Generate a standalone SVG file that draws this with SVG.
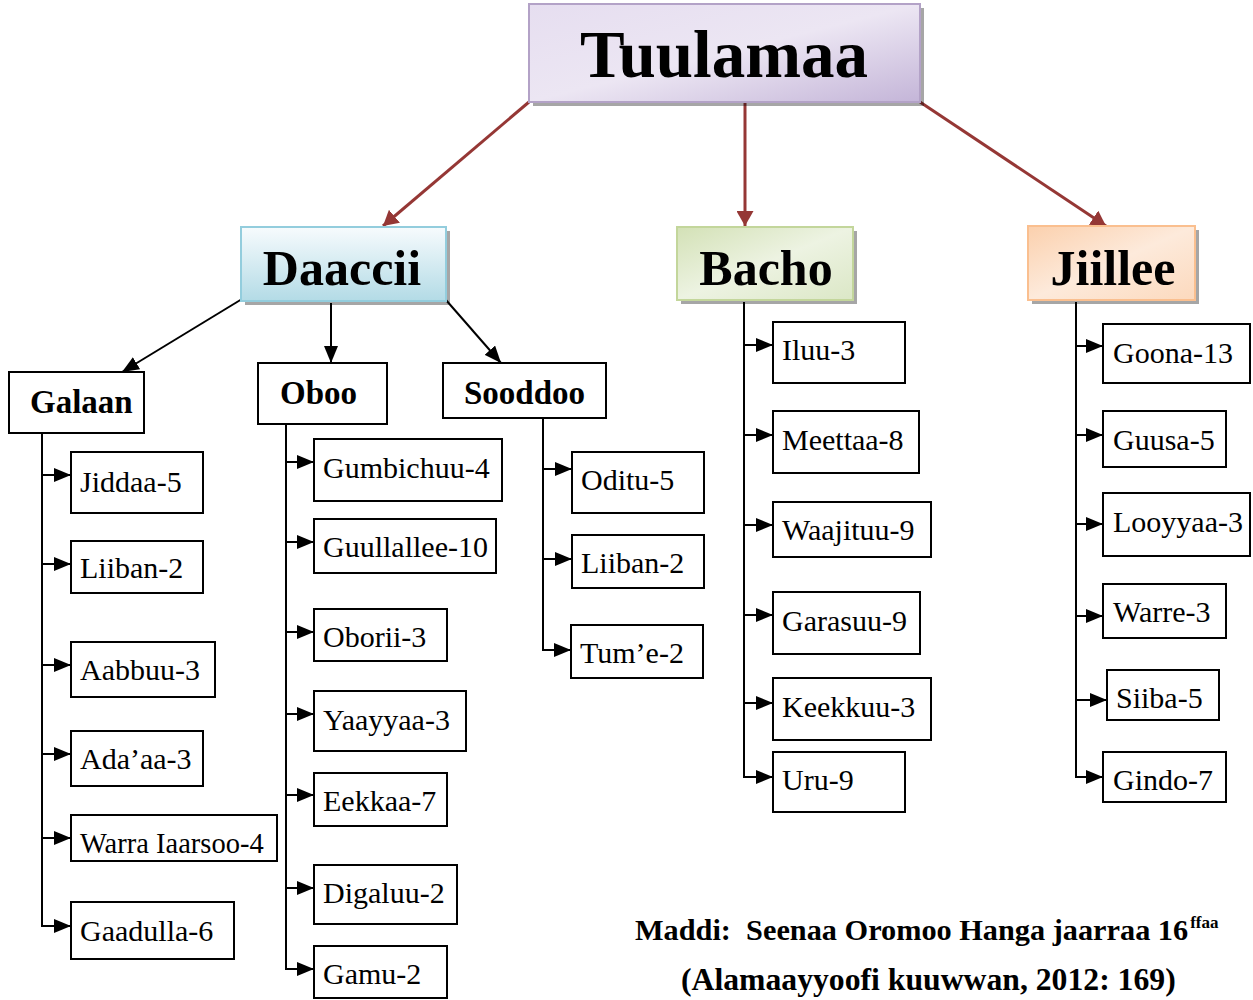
<svg xmlns="http://www.w3.org/2000/svg" width="1253" height="1000" viewBox="0 0 1253 1000">
<defs>
<style>
.box{fill:#fff;stroke:#000;stroke-width:2}
.lbl{font-family:"Liberation Serif","Times New Roman",serif;font-size:30px;fill:#000}
.sub{font-family:"Liberation Serif","Times New Roman",serif;font-size:33px;font-weight:bold;fill:#000}
.hd{font-family:"Liberation Serif","Times New Roman",serif;font-size:50px;font-weight:bold;fill:#000;text-anchor:middle}
.big{font-size:67px}
.ln{stroke:#000;stroke-width:2;fill:none}
.arr{stroke:#000;stroke-width:2;fill:none;marker-end:url(#ab)}
.red{stroke:#953735;stroke-width:3;fill:none;marker-end:url(#ar)}
.shadow{fill:#000;opacity:0.35}
.note{font-family:"Liberation Serif","Times New Roman",serif;font-weight:bold;fill:#000}
</style>
<marker id="ab" markerUnits="userSpaceOnUse" markerWidth="17" markerHeight="14" refX="17" refY="7" orient="auto"><path d="M0,0 L17,7 L0,14 z" fill="#000"/></marker>
<marker id="ar" markerUnits="userSpaceOnUse" markerWidth="15" markerHeight="17" refX="15" refY="8.5" orient="auto"><path d="M0,0 L15,8.5 L0,17 z" fill="#953735"/></marker>
<linearGradient id="gP" x1="0" y1="0" x2="1" y2="1"><stop offset="0" stop-color="#e6def0"/><stop offset="0.5" stop-color="#ece6f3"/><stop offset="1" stop-color="#c4b5d8"/></linearGradient>
<linearGradient id="gB" x1="0" y1="0" x2="0" y2="1"><stop offset="0" stop-color="#f7fbfd"/><stop offset="1" stop-color="#b3dbe6"/></linearGradient>
<linearGradient id="gG" x1="0" y1="0" x2="1" y2="1"><stop offset="0" stop-color="#d3e1b6"/><stop offset="0.5" stop-color="#edf3e2"/><stop offset="1" stop-color="#dbe7c6"/></linearGradient>
<linearGradient id="gO" x1="0" y1="0" x2="1" y2="1"><stop offset="0" stop-color="#fbd0ad"/><stop offset="0.5" stop-color="#fdeadb"/><stop offset="1" stop-color="#fcd9bd"/></linearGradient>
</defs>

<g id="connectors">
<line class="red" x1="529" y1="102" x2="383" y2="226"/>
<line class="red" x1="745" y1="102" x2="745" y2="226"/>
<line class="red" x1="920" y1="102" x2="1106" y2="226"/>
<line class="arr" x1="242" y1="299" x2="122" y2="372"/>
<line class="arr" x1="331" y1="303" x2="331" y2="363"/>
<line class="arr" x1="446" y1="300" x2="501" y2="363"/>
<line class="ln" x1="42" y1="433" x2="42" y2="927"/>
<line class="arr" x1="42" y1="475" x2="71" y2="475"/>
<line class="arr" x1="42" y1="564" x2="71" y2="564"/>
<line class="arr" x1="42" y1="665" x2="71" y2="665"/>
<line class="arr" x1="42" y1="754" x2="71" y2="754"/>
<line class="arr" x1="42" y1="838" x2="71" y2="838"/>
<line class="arr" x1="41" y1="926" x2="71" y2="926"/>
<line class="ln" x1="286" y1="424" x2="286" y2="970"/>
<line class="arr" x1="286" y1="462" x2="314" y2="462"/>
<line class="arr" x1="286" y1="542" x2="314" y2="542"/>
<line class="arr" x1="286" y1="632" x2="314" y2="632"/>
<line class="arr" x1="286" y1="714" x2="314" y2="714"/>
<line class="arr" x1="286" y1="795" x2="314" y2="795"/>
<line class="arr" x1="286" y1="888" x2="314" y2="888"/>
<line class="arr" x1="285" y1="969" x2="314" y2="969"/>
<line class="ln" x1="543" y1="418" x2="543" y2="651"/>
<line class="arr" x1="543" y1="469" x2="572" y2="469"/>
<line class="arr" x1="543" y1="559" x2="572" y2="559"/>
<line class="arr" x1="542" y1="650" x2="571" y2="650"/>
<line class="ln" x1="744" y1="302" x2="744" y2="778"/>
<line class="arr" x1="744" y1="345" x2="773" y2="345"/>
<line class="arr" x1="744" y1="435" x2="773" y2="435"/>
<line class="arr" x1="744" y1="525" x2="773" y2="525"/>
<line class="arr" x1="744" y1="615" x2="773" y2="615"/>
<line class="arr" x1="744" y1="703" x2="773" y2="703"/>
<line class="arr" x1="743" y1="777" x2="773" y2="777"/>
<line class="ln" x1="1076" y1="302" x2="1076" y2="778"/>
<line class="arr" x1="1076" y1="346" x2="1103" y2="346"/>
<line class="arr" x1="1076" y1="435" x2="1103" y2="435"/>
<line class="arr" x1="1076" y1="524" x2="1103" y2="524"/>
<line class="arr" x1="1076" y1="616" x2="1103" y2="616"/>
<line class="arr" x1="1076" y1="700" x2="1107" y2="700"/>
<line class="arr" x1="1075" y1="777" x2="1103" y2="777"/>
</g>

<g id="tuulamaa">
<rect class="shadow" x="533" y="8" width="391" height="98"/>
<rect x="529" y="4" width="391" height="98" fill="url(#gP)" stroke="#b3a2c7" stroke-width="2"/>
<text class="hd big" x="724" y="77">Tuulamaa</text>
</g>
<g id="daaccii">
<rect class="shadow" x="245" y="231" width="205" height="74"/>
<rect x="241" y="227" width="205" height="74" fill="url(#gB)" stroke="#93cddd" stroke-width="2"/>
<text class="hd" x="342" y="285">Daaccii</text>
</g>
<g id="bacho">
<rect class="shadow" x="681" y="231" width="176" height="73" opacity="0.25"/>
<rect x="677" y="227" width="176" height="73" fill="url(#gG)" stroke="#c3d69b" stroke-width="2"/>
<text class="hd" x="766" y="285">Bacho</text>
</g>
<g id="jiillee">
<rect class="shadow" x="1032" y="230" width="167" height="74" opacity="0.25"/>
<rect x="1028" y="226" width="167" height="74" fill="url(#gO)" stroke="#fabf8f" stroke-width="2"/>
<text class="hd" x="1113" y="285">Jiillee</text>
</g>

<g id="galaan"><rect class="box" x="9" y="372" width="135" height="61"/><text class="sub" x="30" y="413">Galaan</text></g>
<g id="oboo"><rect class="box" x="258" y="363" width="129" height="61"/><text class="sub" x="280" y="404">Oboo</text></g>
<g id="sooddoo"><rect class="box" x="443" y="363" width="163" height="55"/><text class="sub" x="464" y="404">Sooddoo</text></g>

<g id="jiddaa"><rect class="box" x="71" y="452" width="132" height="61"/><text class="lbl" x="80" y="492">Jiddaa-5</text></g>
<g id="liiban-g"><rect class="box" x="71" y="541" width="132" height="52"/><text class="lbl" x="80" y="578">Liiban-2</text></g>
<g id="aabbuu"><rect class="box" x="71" y="642" width="144" height="55"/><text class="lbl" x="80" y="680">Aabbuu-3</text></g>
<g id="adaaa"><rect class="box" x="71" y="731" width="132" height="55"/><text class="lbl" x="80" y="769">Ada’aa-3</text></g>
<g id="warra"><rect class="box" x="71" y="815" width="206" height="46"/><text class="lbl" x="80" y="853" style="font-size:28.5px">Warra Iaarsoo-4</text></g>
<g id="gaadulla"><rect class="box" x="71" y="902" width="163" height="57"/><text class="lbl" x="80" y="941">Gaadulla-6</text></g>

<g id="gumbichuu"><rect class="box" x="314" y="439" width="188" height="62"/><text class="lbl" x="323" y="478">Gumbichuu-4</text></g>
<g id="guullallee"><rect class="box" x="314" y="519" width="182" height="54"/><text class="lbl" x="323" y="557">Guullallee-10</text></g>
<g id="oborii"><rect class="box" x="314" y="609" width="133" height="52"/><text class="lbl" x="323" y="647">Oborii-3</text></g>
<g id="yaayyaa"><rect class="box" x="314" y="691" width="152" height="60"/><text class="lbl" x="323" y="730">Yaayyaa-3</text></g>
<g id="eekkaa"><rect class="box" x="314" y="773" width="133" height="53"/><text class="lbl" x="323" y="811">Eekkaa-7</text></g>
<g id="digaluu"><rect class="box" x="314" y="865" width="143" height="59"/><text class="lbl" x="323" y="903">Digaluu-2</text></g>
<g id="gamu"><rect class="box" x="314" y="946" width="133" height="52"/><text class="lbl" x="323" y="984">Gamu-2</text></g>

<g id="oditu"><rect class="box" x="572" y="452" width="132" height="61"/><text class="lbl" x="581" y="490">Oditu-5</text></g>
<g id="liiban-s"><rect class="box" x="572" y="535" width="132" height="53"/><text class="lbl" x="581" y="573">Liiban-2</text></g>
<g id="tume"><rect class="box" x="571" y="625" width="132" height="53"/><text class="lbl" x="580" y="663">Tum’e-2</text></g>

<g id="iluu"><rect class="box" x="773" y="322" width="132" height="61"/><text class="lbl" x="782" y="360">Iluu-3</text></g>
<g id="meettaa"><rect class="box" x="773" y="411" width="146" height="62"/><text class="lbl" x="782" y="450">Meettaa-8</text></g>
<g id="waajituu"><rect class="box" x="773" y="502" width="158" height="55"/><text class="lbl" x="782" y="540">Waajituu-9</text></g>
<g id="garasuu"><rect class="box" x="773" y="592" width="147" height="62"/><text class="lbl" x="782" y="631">Garasuu-9</text></g>
<g id="keekkuu"><rect class="box" x="773" y="678" width="158" height="62"/><text class="lbl" x="782" y="717">Keekkuu-3</text></g>
<g id="uru"><rect class="box" x="773" y="752" width="132" height="60"/><text class="lbl" x="782" y="790">Uru-9</text></g>

<g id="goona"><rect class="box" x="1103" y="324" width="147" height="59"/><text class="lbl" x="1113" y="363">Goona-13</text></g>
<g id="guusa"><rect class="box" x="1103" y="411" width="123" height="56"/><text class="lbl" x="1113" y="450">Guusa-5</text></g>
<g id="looyyaa"><rect class="box" x="1103" y="493" width="147" height="63"/><text class="lbl" x="1113" y="532">Looyyaa-3</text></g>
<g id="warre"><rect class="box" x="1103" y="584" width="123" height="54"/><text class="lbl" x="1113" y="622">Warre-3</text></g>
<g id="siiba"><rect class="box" x="1107" y="670" width="112" height="50"/><text class="lbl" x="1116" y="708">Siiba-5</text></g>
<g id="gindo"><rect class="box" x="1103" y="752" width="123" height="50"/><text class="lbl" x="1113" y="790">Gindo-7</text></g>

<g id="source">
<text class="note" x="635" y="940" style="font-size:30.3px" xml:space="preserve">Maddi:  Seenaa Oromoo Hanga jaarraa 16<tspan style="font-size:17px" dy="-12" dx="2">ffaa</tspan></text>
<text class="note" x="681" y="990" style="font-size:31.7px">(Alamaayyoofi kuuwwan, 2012: 169)</text>
</g>
</svg>
